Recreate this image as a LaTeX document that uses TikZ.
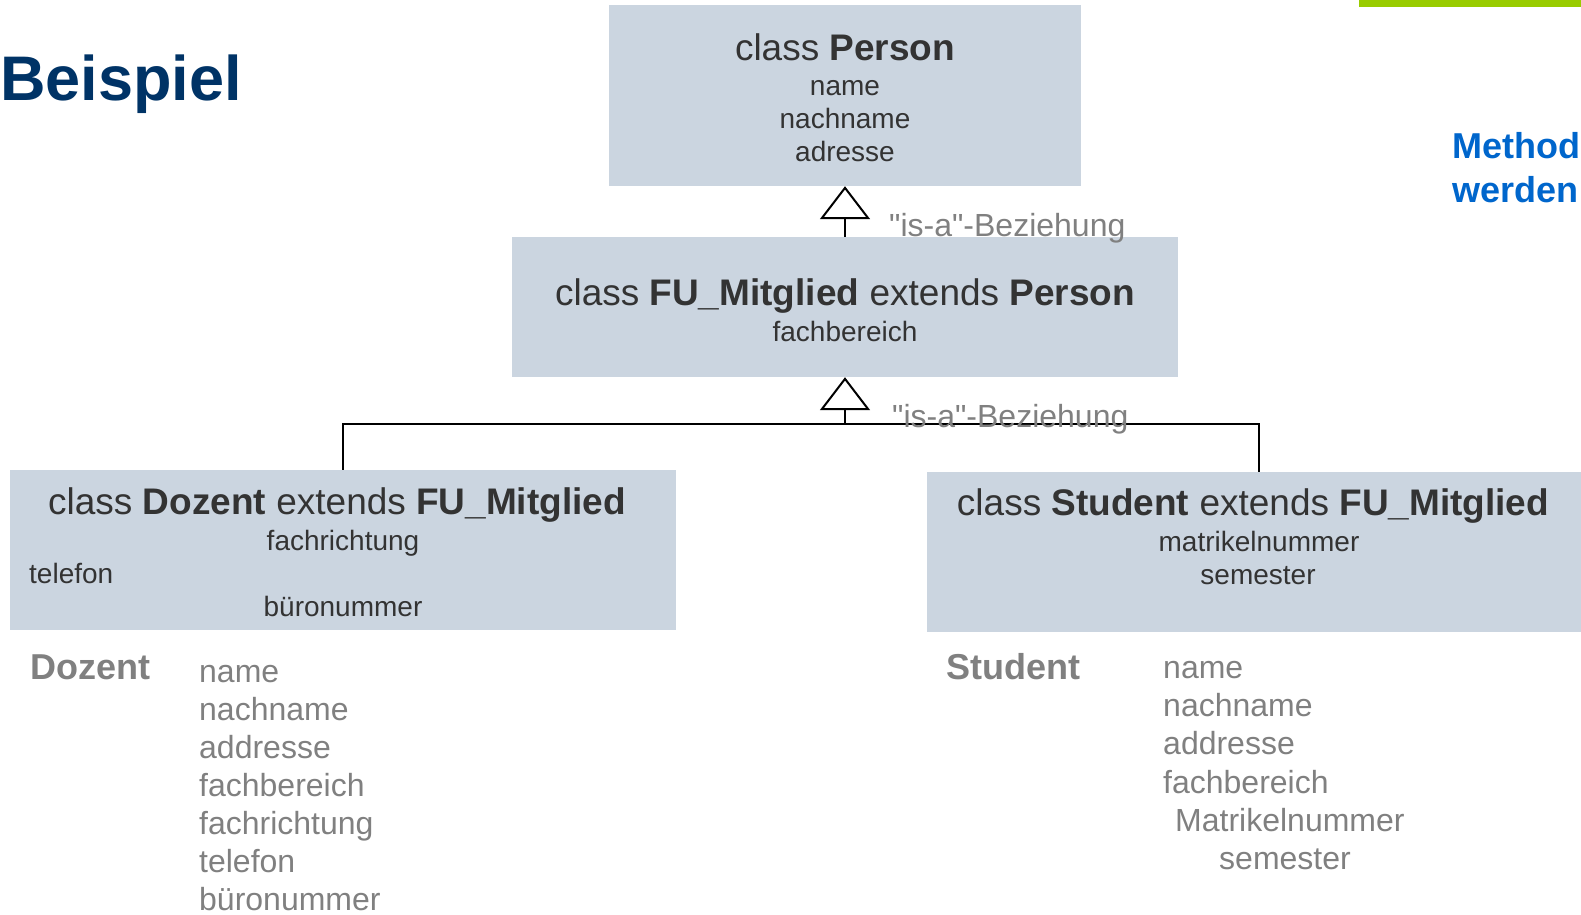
\documentclass[tikz,border=0pt]{standalone}
\usepackage{fontspec}
\setmainfont{Liberation Sans}[Ligatures=TeXOff]
\usetikzlibrary{arrows.meta}
\definecolor{boxfill}{RGB}{203,213,224}
\definecolor{boxtext}{RGB}{51,51,51}
\definecolor{titleblue}{RGB}{0,51,102}
\definecolor{headblue}{RGB}{0,102,204}
\definecolor{barlime}{RGB}{153,204,0}
\definecolor{labelgray}{RGB}{128,128,128}
\newcommand{\setfs}[1]{\fontsize{#1}{#1}\selectfont}
\begin{document}
\begin{tikzpicture}[x=1pt,y=-1pt,
  classbox/.style={fill=boxfill, draw=none, inner sep=0pt},
  headline/.style={anchor=base, text=boxtext, inner sep=0pt, font=\setfs{37}},
  attr/.style={anchor=base, text=boxtext, inner sep=0pt, font=\setfs{28}},
  isa/.style={anchor=base west, text=labelgray, inner sep=0pt, font=\setfs{32}},
  listhead/.style={anchor=base west, text=labelgray, inner sep=0pt, font=\setfs{36}\bfseries},
  listitem/.style={anchor=base west, text=labelgray, inner sep=0pt, font=\setfs{32}},
  conn/.style={draw=black, line width=2pt},
  gen/.style={conn, -{Triangle[length=33pt, width=50pt, fill=white]}}]
\clip (0,0) rectangle (1581,914);

% page header
\node[anchor=base west, inner sep=0pt, text=titleblue, font=\setfs{63}\bfseries] (title) at (0,100) {Beispiel};
\fill[barlime] (1359,0) rectangle (1581,7);
\node[anchor=base west, inner sep=0pt, text=headblue, font=\setfs{36}\bfseries] (side1) at (1452,158) {Method};
\node[anchor=base west, inner sep=0pt, text=headblue, font=\setfs{36}\bfseries] (side2) at (1452,202) {werden};

% class boxes
\node[classbox, minimum width=472pt, minimum height=181pt] (person) at (845,95.5) {};
\node[classbox, minimum width=666pt, minimum height=140pt] (fu) at (845,307) {};
\node[classbox, minimum width=666pt, minimum height=160pt] (doz) at (343,550) {};
\node[classbox, minimum width=664pt, minimum height=160pt] (stu) at (1259,552) {};

% inheritance connectors
\coordinate (bus) at (845,423.5);
\draw[conn] (doz.north) |- (bus) -| (stu.north);
\draw[gen] (bus) -- (fu.south);
\draw[gen] (fu.north) -- (person.south);

% class Person
\node[headline] (pt) at (845,60) {class \textbf{Person}};
\node[attr] (pa1) at (845,95) {name};
\node[attr] (pa2) at (845,128) {nachname};
\node[attr] (pa3) at (845,161) {adresse};

% class FU_Mitglied
\node[headline] (ft) at (845,305) {class \textbf{FU\_Mitglied} extends \textbf{Person}};
\node[attr] (fa1) at (845,341) {fachbereich};

% class Dozent
\node[headline] (dt) at (337,514) {class \textbf{Dozent} extends \textbf{FU\_Mitglied}};
\node[attr] (da1) at (343,550) {fachrichtung};
\node[attr, anchor=base west] (da2) at (29,583) {telefon};
\node[attr] (da3) at (343,616) {büronummer};

% class Student
\node[headline] (st) at (1253,515) {class \textbf{Student} extends \textbf{FU\_Mitglied}};
\node[attr] (sa1) at (1259,551) {matrikelnummer};
\node[attr] (sa2) at (1258,584) {semester};

% relation labels
\node[isa] (isa1) at (889,236) {"is-a"-Beziehung};
\node[isa] (isa2) at (892,427) {"is-a"-Beziehung};

% resulting attribute lists
\node[listhead] (dh) at (30,679) {Dozent};
\node[listitem] (d1) at (199,682) {name};
\node[listitem] (d2) at (199,720) {nachname};
\node[listitem] (d3) at (199,758) {addresse};
\node[listitem] (d4) at (199,796) {fachbereich};
\node[listitem] (d5) at (199,834) {fachrichtung};
\node[listitem] (d6) at (199,872) {telefon};
\node[listitem] (d7) at (199,910) {büronummer};

\node[listhead] (sh) at (946,679) {Student};
\node[listitem] (s1) at (1163,678) {name};
\node[listitem] (s2) at (1163,716) {nachname};
\node[listitem] (s3) at (1163,754) {addresse};
\node[listitem] (s4) at (1163,793) {fachbereich};
\node[listitem] (s5) at (1175,831) {Matrikelnummer};
\node[listitem] (s6) at (1219,869) {semester};
\end{tikzpicture}
\end{document}
